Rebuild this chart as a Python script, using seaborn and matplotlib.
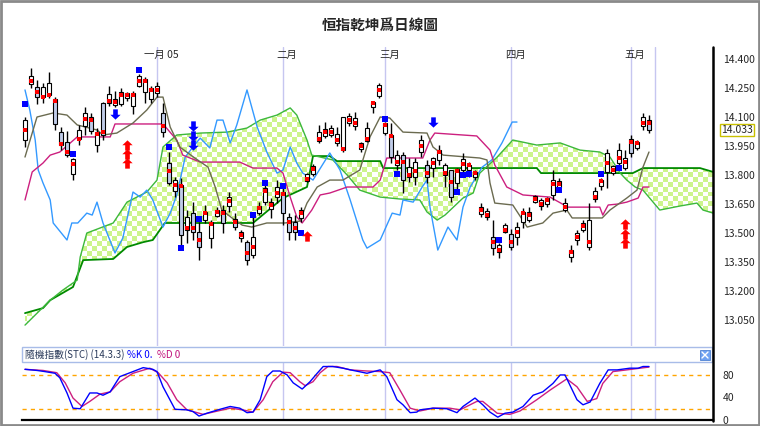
import numpy as np
import matplotlib.pyplot as plt
import matplotlib.patches as mpatches
import matplotlib.lines as mlines
import matplotlib.transforms as mtrans
import seaborn as sns

sns.set_style("white")
plt.rcParams['font.family'] = ['Noto Sans CJK TC', 'DejaVu Sans']

# ---- daily candles (index = trading day) ----
opens = [13981, 14271, 14255, 14203, 14214, 14193, 14022, 13971, 13805, 13986,
         14053, 14100, 13955, 14172, 14172, 14162, 14167, 14198, 14157, 14260,
         14229, 14193, 14224, 14121, 13862, 13717, 13748, 13516, 13603, 13505,
         13567, 13474, 13588, 13619, 13640, 13572, 13474, 13453, 13386, 13603,
         13660, 13624, 13686, 13712, 13583, 13557, 13578, 13769, 13805, 13976,
         14002, 14007, 13966, 13929, 14069, 14053, 13934, 13976, 14152, 14209,
         14017, 14007, 13852, 13903, 13790, 13790, 13919, 13852, 13836, 13878,
         13800, 13826, 13759, 13826, 13826, 13790, 13598, 13583, 13479, 13402,
         13505, 13495, 13479, 13557, 13567, 13660, 13640, 13650, 13697, 13738,
         13619, 13376, 13464, 13516, 13428, 13676, 13743, 13816, 13810, 13862,
         13836, 13986, 13940, 14053, 14084]
highs = [14100, 14353, 14291, 14276, 14333, 14203, 14048, 14028, 13888, 14059,
         14152, 14121, 14043, 14178, 14260, 14234, 14250, 14229, 14234, 14322,
         14307, 14260, 14281, 14172, 13919, 13790, 13784, 13619, 13660, 13557,
         13645, 13567, 13634, 13645, 13712, 13603, 13516, 13464, 13583, 13660,
         13748, 13681, 13774, 13733, 13603, 13593, 13634, 13810, 13857, 14059,
         14074, 14059, 14048, 14100, 14121, 14126, 13971, 14074, 14183, 14276,
         14074, 14069, 13929, 13919, 13888, 13888, 14007, 13878, 13893, 13955,
         13862, 13826, 13836, 13914, 13867, 13826, 13655, 13629, 13567, 13448,
         13552, 13521, 13557, 13629, 13634, 13697, 13681, 13686, 13826, 13784,
         13681, 13438, 13516, 13567, 13655, 13738, 13784, 13934, 13852, 13966,
         13929, 14007, 13981, 14121, 14110]
lows = [13945, 14250, 14167, 14172, 14198, 14033, 13929, 13893, 13774, 13955,
        14007, 14012, 13919, 13981, 14157, 14152, 14157, 14183, 14115, 14255,
        14172, 14172, 14203, 13997, 13748, 13686, 13438, 13448, 13464, 13360,
        13552, 13422, 13583, 13500, 13609, 13516, 13453, 13334, 13371, 13593,
        13645, 13578, 13655, 13541, 13464, 13464, 13557, 13764, 13795, 13966,
        13991, 13997, 13950, 13919, 14053, 14033, 13919, 13971, 14121, 14198,
        14007, 13862, 13826, 13707, 13764, 13748, 13893, 13759, 13790, 13852,
        13738, 13660, 13722, 13810, 13790, 13774, 13583, 13567, 13386, 13371,
        13500, 13412, 13438, 13526, 13557, 13655, 13619, 13634, 13671, 13712,
        13609, 13350, 13438, 13505, 13412, 13660, 13722, 13733, 13800, 13836,
        13826, 13893, 13929, 14033, 14017]
closes = [14084, 14312, 14203, 14255, 14276, 14064, 13955, 13903, 13883, 14033,
          14121, 14028, 14022, 14007, 14219, 14193, 14229, 14224, 14224, 14312,
          14296, 14250, 14260, 14022, 13759, 13774, 13490, 13583, 13505, 13428,
          13609, 13557, 13619, 13552, 13686, 13531, 13505, 13360, 13479, 13640,
          13733, 13660, 13738, 13603, 13505, 13505, 13619, 13805, 13847, 14022,
          14038, 14043, 14012, 14100, 14105, 14095, 13966, 14043, 14178, 14266,
          14069, 13893, 13903, 13774, 13841, 13867, 13981, 13790, 13888, 13929,
          13852, 13686, 13831, 13883, 13852, 13816, 13634, 13614, 13422, 13438,
          13541, 13428, 13531, 13609, 13609, 13691, 13671, 13681, 13774, 13769,
          13655, 13412, 13500, 13552, 13567, 13717, 13774, 13914, 13847, 13929,
          13888, 13914, 13971, 14100, 14033]
dots = [14033, 14286, 14229, 14203, 14214, 14183, 13960, 13919, 13857, 13986,
        14090, 14084, 14012, 14022, 14183, 14178, 14214, 14214, 14214, 14286,
        14286, 14240, 14240, 14053, 13821, 13748, 13743, 13526, 13526, 13464,
        13603, 13547, 13609, 13603, 13666, 13557, 13490, 13397, 13428, 13629,
        13717, 13645, 13707, 13702, 13557, 13526, 13603, 13779, 13831, 13986,
        14022, 14022, 13981, 13934, 14084, 14069, 13950, 13986, 14172, 14240,
        14059, 14002, 13867, 13867, 13800, 13821, 13950, 13810, 13862, 13919,
        13810, 13764, 13821, 13857, 13852, 13810, 13619, 13593, 13453, 13412,
        13516, 13453, 13505, 13603, 13593, 13676, 13650, 13671, 13753, 13753,
        13634, 13402, 13479, 13536, 13453, 13686, 13769, 13862, 13826, 13888,
        13867, 13971, 13966, 14069, 14069]

blue_idx = [0, 8, 19, 24, 26, 29, 38, 40, 43, 46, 60, 62, 72, 73, 74, 79, 89, 96, 99]
blue_val = [14167, 13909, 14343, 13945, 13422, 13572, 13593, 13759, 13743, 13500,
            14090, 13805, 13712, 13800, 13805, 13464, 13722, 13805, 13836]

up_idx = [17, 17, 17, 47, 100, 100, 100]
up_val = [13955, 13909, 13862, 13484, 13547, 13497, 13448]
down_idx = [15, 28, 28, 28, 68]
down_val = [14116, 14053, 14004, 13955, 14074]

# ---- ichimoku lines (breakpoints) ----
tenkan_x = [0, 2, 4.7, 7, 8.7, 12, 13, 15.3, 18, 20.3, 22, 23, 24.2, 25.8, 28.3, 30.5,
            31.7, 32.8, 34.5, 36.2, 37.8, 40.3, 43.3, 45.8, 47, 48.7, 50.8, 53, 55.8,
            57.5, 59.2, 60.8, 63, 67, 68, 69.7, 75.8, 77, 77.5, 78.3, 81.3, 83.7, 86.3,
            88, 90.3, 91.2, 96.2, 97.5, 100.3, 102, 103, 104]
tenkan = [13893, 14100, 14121, 14110, 14059, 14033, 14007, 14017, 14069, 14136, 14203,
          14203, 14048, 13945, 13888, 13841, 13738, 13619, 13578, 13541, 13531, 13552,
          13552, 13562, 13655, 13738, 13774, 13774, 13826, 13997, 14100, 14095, 14022,
          14017, 13945, 13903, 13888, 13878, 13759, 13655, 13645, 13531, 13552, 13603,
          13619, 13578, 13578, 13619, 13681, 13722, 13841, 13919]

kijun_x = [0, 1.2, 3, 4.2, 5.8, 8.7, 14.2, 15, 23, 25.3, 26.3, 29.2, 35.8, 38, 42, 43,
           44.2, 45.3, 46.2, 47.8, 49.2, 50.8, 53.7, 58, 59.2, 60.3, 66.3, 67.5, 68.3,
           75.3, 77.5, 78.3, 80.3, 83, 87.5, 90.5, 95.8, 96.3, 97.2, 98.8, 100.3, 102.2,
           103, 104]
kijun = [13671, 13816, 13862, 13903, 13919, 13997, 13997, 14064, 14064, 13981, 13903,
         13867, 13867, 13836, 13836, 13810, 13686, 13583, 13552, 13619, 13697, 13707,
         13738, 13738, 13774, 13888, 13888, 13981, 14017, 14002, 13929, 13852, 13738,
         13697, 13686, 13634, 13634, 13593, 13645, 13650, 13660, 13681, 13738, 13738]

chikou_x = [0, 0.8, 1.7, 2.2, 3, 4.2, 4.7, 7, 7.8, 8.8, 10.3, 11.2, 12, 13, 15, 16.3,
            18, 19.2, 20.3, 21.3, 23, 24.2, 25.3, 26.7, 28, 29.2, 30.8, 32, 33, 34.2,
            35.3, 37, 38.7, 40.3, 42, 43, 44.2, 45.3, 46.3, 48, 50.8, 52.5, 54.2, 56.3,
            57, 59.2, 61.2, 62.5, 63, 64.7, 66.2, 67, 67.5, 68.8, 70.5, 72, 73, 74.2,
            76.2, 77.8, 79.5, 81.2, 82]
chikou = [14240, 14136, 13981, 13826, 13759, 13671, 13552, 13464, 13552, 13552, 13603,
          13593, 13660, 13552, 13397, 13474, 13712, 13686, 13722, 13671, 13531, 13603,
          13697, 13893, 13945, 13991, 13940, 14084, 14084, 13966, 14059, 14240, 14048,
          13919, 13810, 13826, 13945, 13862, 13810, 13774, 13914, 13826, 13671, 13464,
          13422, 13464, 13603, 13593, 13671, 13660, 13738, 13774, 13634, 13412, 13531,
          13464, 13634, 13738, 13841, 13878, 13966, 14074, 14074]

span_a_x = [0, 4.2, 6.3, 8.7, 9.2, 10.3, 14.7, 17, 20.3, 22, 23, 25.3, 29.2, 33.7, 37,
            39.2, 42, 44.2, 45.3, 47, 47.8, 51.3, 53.7, 55.8, 59.2, 62.5, 65.8, 67, 68.7,
            70, 73, 74.7, 75.8, 78.7, 81.3, 85.3, 89.2, 92.5, 95.8, 97.5, 99.2, 100.3,
            101.7, 103, 105.8, 109.2, 112, 113, 114.7]
span_a = [13024, 13153, 13205, 13257, 13376, 13500, 13552, 13660, 13712, 13774, 13945,
          14007, 14017, 14022, 14043, 14084, 14110, 14147, 14110, 13981, 13903, 13878,
          13800, 13722, 13686, 13676, 13671, 13609, 13567, 13593, 13681, 13707, 13810,
          13893, 13981, 13955, 13966, 13929, 13919, 13893, 13810, 13774, 13738, 13722,
          13619, 13640, 13655, 13619, 13603]

span_b_x = [0, 3, 4.2, 8, 9.7, 14.7, 17, 19.7, 21.3, 23.3, 38, 43, 47, 48, 50.8, 52,
            59.2, 59.7, 85.3, 86, 101.3, 103, 112.5, 114.7]
span_b = [13086, 13112, 13153, 13221, 13360, 13366, 13428, 13453, 13464, 13552, 13552,
          13681, 13738, 13898, 13898, 13872, 13872, 13836, 13836, 13810, 13810, 13836,
          13836, 13816]

# ---- stochastic (14,3,3) ----
k_x = [0, 2, 3.3, 5, 5.8, 7, 8, 9.2, 10.8, 12, 13, 14.2, 15.8, 18, 19.7, 21.3, 22, 23,
       25, 27, 28, 29, 30.3, 32.5, 34.2, 35.8, 37, 38, 39.2, 40.3, 41.3, 42.5, 43.7,
       44.7, 46.2, 47.5, 48.7, 49.7, 51.3, 53, 54.7, 57, 59.2, 60.3, 62, 63, 64.2, 65.3,
       65.8, 68, 70.3, 72, 73, 75, 76.3, 77.5, 78.8, 80, 81.3, 83, 84.7, 86.3, 88, 89.2,
       90, 92, 93, 94.2, 95.8, 97.2, 98.7, 100.8, 102.2, 103, 104]
k_val = [90, 88, 86, 83, 75, 48, 21, 20, 48, 48, 44, 50, 77, 86, 93, 90, 86, 59, 19, 18,
         15, 7, 12, 19, 24, 21, 13, 14, 36, 77, 87, 87, 80, 66, 55, 68, 83, 95, 95, 92,
         88, 83, 89, 77, 36, 27, 13, 14, 18, 21, 20, 13, 24, 39, 27, 14, 5, 12, 14, 24,
         44, 50, 65, 80, 80, 36, 27, 32, 65, 89, 89, 92, 92, 95, 95]
d_x = [0, 3, 5.3, 6.7, 8, 9.5, 10.8, 12.5, 14.2, 15.8, 18, 20.8, 22.2, 23.7, 25.3, 27,
       29.7, 31.3, 34.2, 36.3, 38, 39.7, 41.3, 43, 44.2, 45.8, 46.7, 48, 49.2, 50.5, 52,
       54.2, 57, 59.2, 60.8, 62.5, 64.2, 65.8, 68, 70.8, 72.5, 75.3, 76.3, 78.7, 80.8,
       82.5, 85.3, 87.5, 90.3, 92, 93.7, 95.3, 96.3, 98, 100.3, 102.5, 104]
d_val = [90, 88, 84, 66, 39, 24, 33, 46, 50, 68, 83, 92, 84, 66, 36, 18, 10, 14, 21, 18,
         14, 36, 68, 85, 84, 68, 61, 68, 84, 95, 95, 89, 87, 86, 84, 53, 21, 16, 21, 21,
         18, 33, 33, 12, 10, 16, 36, 53, 73, 59, 33, 38, 65, 86, 89, 92, 94]

month_idx = [22, 43, 60, 81, 101]
month_lbl = ['一月 05', '二月', '三月', '四月', '五月']
last_idx = 105
price_ticks = [13050, 13200, 13350, 13500, 13650, 13800, 13950, 14100, 14250, 14400]
last_price = 14033

# ---- layout ----
W, H = 760, 426
fig = plt.figure(figsize=(W / 100, H / 100), dpi=100)
fig.patch.set_facecolor('white')

ax = fig.add_axes([22 / W, 1 - 346 / H, 691 / W, 299 / H])
x0, x1 = -0.5, 114.67
y0, y1 = 12916, 14462

# cloud with checkered fill
cloud_x = span_a_x + span_b_x[::-1]
cloud_y = span_a + span_b[::-1]
poly = ax.fill(cloud_x, cloud_y, facecolor='none', edgecolor='none')[0]
rr, cc = np.indices((60, 138))
board = np.ones((60, 138, 3))
board[(rr + cc) % 2 == 0] = [0.80, 0.96, 0.55]
im = ax.imshow(board, extent=(x0, x1, y0, y1), aspect='auto',
               interpolation='nearest', zorder=1)
im.set_clip_path(poly)

for m in month_idx + [last_idx]:
    ax.axvline(m, color='#c6c6f0', lw=1, zorder=0.5)

sns.lineplot(x=span_b_x, y=span_b, ax=ax, color='#008a00', lw=1.3, estimator=None, sort=False, zorder=2)
sns.lineplot(x=span_a_x, y=span_a, ax=ax, color='#3cb83c', lw=1, estimator=None, sort=False, zorder=2)
sns.lineplot(x=chikou_x, y=chikou, ax=ax, color='#3399ff', lw=1, estimator=None, sort=False, zorder=2)
sns.lineplot(x=kijun_x, y=kijun, ax=ax, color='#cc1f7f', lw=1, estimator=None, sort=False, zorder=2)
sns.lineplot(x=tenkan_x, y=tenkan, ax=ax, color='#6b6b50', lw=1, estimator=None, sort=False, zorder=2)

# candles
idx = np.arange(len(opens))
o = np.array(opens)
c = np.array(closes)
down = c < o
ax.vlines(idx, lows, highs, color='black', lw=1, zorder=3)
ax.bar(idx, np.maximum(np.abs(c - o), 4), bottom=np.minimum(o, c), width=0.72,
       color=np.where(down, '#c0cce8', 'white'), edgecolor='black', lw=0.8, zorder=4)
ax.scatter(idx, dots, marker='s', s=9, color='#ff0000', linewidths=0, zorder=5)
ax.scatter(blue_idx, blue_val, marker='s', s=13, color='#0000ff', linewidths=0, zorder=5)

up_arrow = [(0, 1), (1, 0.05), (0.45, 0.05), (0.45, -1), (-0.45, -1), (-0.45, 0.05), (-1, 0.05)]
down_arrow = [(x, -y) for x, y in up_arrow]
ax.scatter(up_idx, up_val, marker=up_arrow, s=55, color='#ff0000', linewidths=0, zorder=6)
ax.scatter(down_idx, down_val, marker=down_arrow, s=55, color='#0000ff', linewidths=0, zorder=6)

ax.set_xlim(x0, x1)
ax.set_ylim(y0, y1)
ax.set_xticks([])
ax.yaxis.tick_right()
ax.set_yticks(price_ticks)
ax.set_yticklabels([f"{v // 1000}.{v % 1000:03d}" for v in price_ticks])
ax.tick_params(axis='y', length=0, pad=7, labelsize=7.5)
for s in ['left', 'top', 'bottom', 'right']:
    ax.spines[s].set_visible(False)

btf = mtrans.blended_transform_factory(ax.transData, ax.transAxes)
for m, lbl in zip(month_idx, month_lbl):
    ax.text(m + 0.7, 0.972, lbl, transform=btf, ha='center', va='center', fontsize=7.5)

rtf = mtrans.blended_transform_factory(ax.transAxes, ax.transData)
ax.text(1.012, last_price, f"{last_price // 1000}.{last_price % 1000:03d}", transform=rtf,
        ha='left', va='center', fontsize=7.5, clip_on=False,
        bbox=dict(boxstyle='square,pad=0.12', fc='white', ec='#c8c000', lw=1))

# ---- stochastic panel ----
ax2 = fig.add_axes([22 / W, 1 - 420 / H, 691 / W, 58 / H])
for m in month_idx + [last_idx]:
    ax2.axvline(m, color='#c6c6f0', lw=1, zorder=0.5)
for lvl in [80, 20]:
    ax2.axhline(lvl, color='#ffa500', lw=1, ls=(0, (3, 3)), zorder=1)
sns.lineplot(x=d_x, y=d_val, ax=ax2, color='#cc1f7f', lw=1, estimator=None, sort=False, zorder=2)
sns.lineplot(x=k_x, y=k_val, ax=ax2, color='#0000ff', lw=1, estimator=None, sort=False, zorder=3)
ax2.set_xlim(x0, x1)
ax2.set_ylim(0, 103)
ax2.set_xticks([])
ax2.yaxis.tick_right()
ax2.set_yticks([0, 40, 80])
ax2.tick_params(axis='y', length=0, pad=7, labelsize=7.5)
for s in ['left', 'top', 'right']:
    ax2.spines[s].set_visible(False)
ax2.spines['bottom'].set_color('black')
ax2.spines['bottom'].set_linewidth(1.6)

# sub panel title band
fig.add_artist(mpatches.Rectangle((22 / W, 1 - 362 / H), 690 / W, 15 / H, transform=fig.transFigure,
                                  facecolor='white', edgecolor='#a8bce8', lw=1))
fig.text(25 / W, 1 - 355 / H, '隨機指數(STC) (14.3.3)', fontsize=7, color='#2a3a5a', va='center')
fig.text(127 / W, 1 - 355 / H, '%K 0.', fontsize=7, color='#0000ff', va='center')
fig.text(157 / W, 1 - 355 / H, '%D 0', fontsize=7, color='#c0107a', va='center')
fig.add_artist(mpatches.Rectangle((700 / W, 1 - 360 / H), 10 / W, 10 / H, transform=fig.transFigure,
                                  facecolor='#6fa2f2', edgecolor='#4f82d2', lw=0.6))
fig.add_artist(mlines.Line2D([702 / W, 708 / W], [1 - 358 / H, 1 - 352 / H], color='white', lw=1))
fig.add_artist(mlines.Line2D([702 / W, 708 / W], [1 - 352 / H, 1 - 358 / H], color='white', lw=1))

# right axis line and frame
fig.add_artist(mlines.Line2D([713 / W, 713 / W], [1 - 47 / H, 1 - 421 / H], color='black', lw=1.8))
fig.add_artist(mpatches.Rectangle((0.0015, 0.002), 0.997, 0.996, transform=fig.transFigure,
                                  fill=False, edgecolor='#8a8a8a', lw=2))

fig.text(0.5, 1 - 25 / H, '恒指乾坤爲日線圖', ha='center', va='center', fontsize=10.5, fontweight='bold')

fig.savefig('out.png', dpi=100)
